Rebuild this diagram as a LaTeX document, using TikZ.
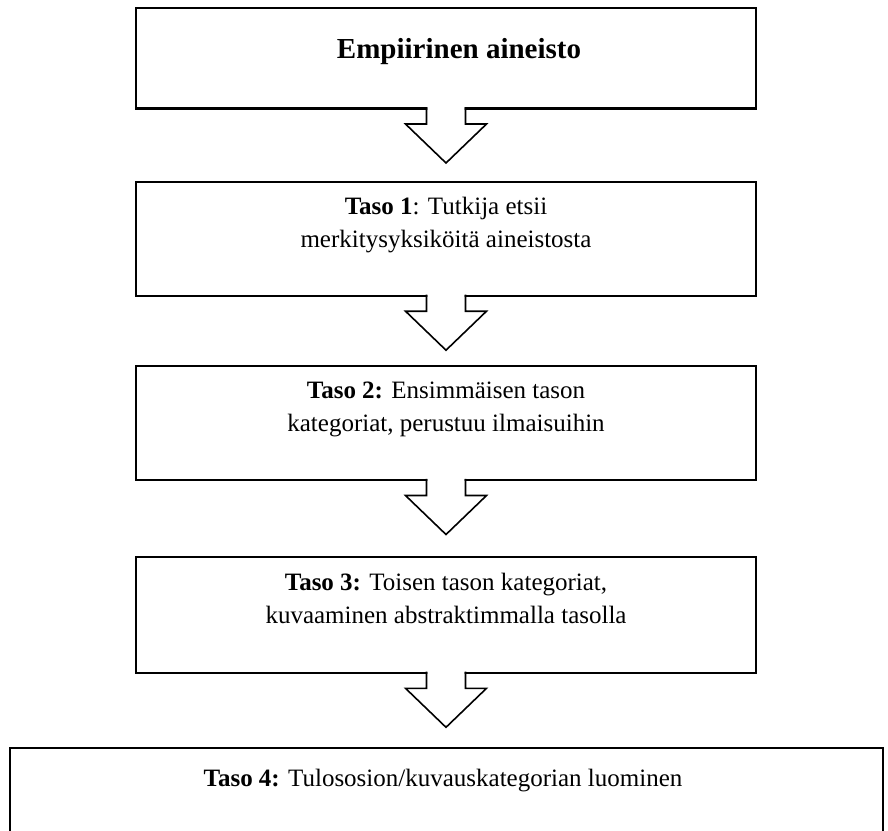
\documentclass[tikz,border=0pt]{standalone}
\usepackage{fontspec}
\setmainfont{Liberation Serif}
\begin{document}
\begin{tikzpicture}[x=1pt,y=-1pt,
  box/.style={draw=black, line width=2.2pt, fill=white, inner sep=0pt, outer sep=0pt, minimum width=620.3pt},
  lbl/.style={anchor=base, inner sep=0pt, font=\fontsize{25}{33}\selectfont},
  ttl/.style={anchor=base, inner sep=0pt, font=\fontsize{29}{34}\selectfont\bfseries},
  arrowline/.style={draw=black, line width=1.6pt, line join=miter},
  blockarrow/.pic={
    \fill[white] (-18.7,-3) -- (-18.7,15.5) -- (-40.5,15.5) -- (0,54.5) -- (40.5,15.5) -- (18.7,15.5) -- (18.7,-3) -- cycle;
    \draw[arrowline] (-19.5,-1.1) -- (-19.5,15.5) -- (-40.5,15.5) -- (0,54.5) -- (40.5,15.5) -- (19.5,15.5) -- (19.5,-1.1);
  }]
\useasboundingbox (0,0) rectangle (888,830);
\clip (0,0) rectangle (888,830);
\fill[white] (0,0) rectangle (888,830);

% boxes
\node[box, minimum height=100.8pt, anchor=north] (b1) at (446,7.7) {};
\node[box, minimum height=114pt, anchor=north] (b2) at (446,181.7) {};
\node[box, minimum height=114.3pt, anchor=north] (b3) at (446,365.7) {};
\node[box, minimum height=115.5pt, anchor=north] (b4) at (446,557.3) {};
\node[box, minimum width=873pt, minimum height=120pt, anchor=north west] (b5) at (10,748.3) {};

% block arrows between the boxes
\pic at (b1.south) {blockarrow};
\pic at (b2.south) {blockarrow};
\pic at (b3.south) {blockarrow};
\pic at (b4.south) {blockarrow};

% texts
\node[ttl] (t1) at (459,58) {Empiirinen aineisto};
\node[lbl] (t2a) at (446,214) {\textbf{Taso 1}: Tutkija etsii};
\node[lbl] (t2b) at (446,247) {merkitysyksiköitä aineistosta};
\node[lbl] (t3a) at (446,398) {\textbf{Taso 2:} Ensimmäisen tason};
\node[lbl] (t3b) at (446,431) {kategoriat, perustuu ilmaisuihin};
\node[lbl] (t4a) at (446,590) {\textbf{Taso 3:} Toisen tason kategoriat,};
\node[lbl] (t4b) at (446,623) {kuvaaminen abstraktimmalla tasolla};
\node[lbl] (t5) at (443,786) {\textbf{Taso 4:} Tulososion/kuvauskategorian luominen};
\end{tikzpicture}
\end{document}
